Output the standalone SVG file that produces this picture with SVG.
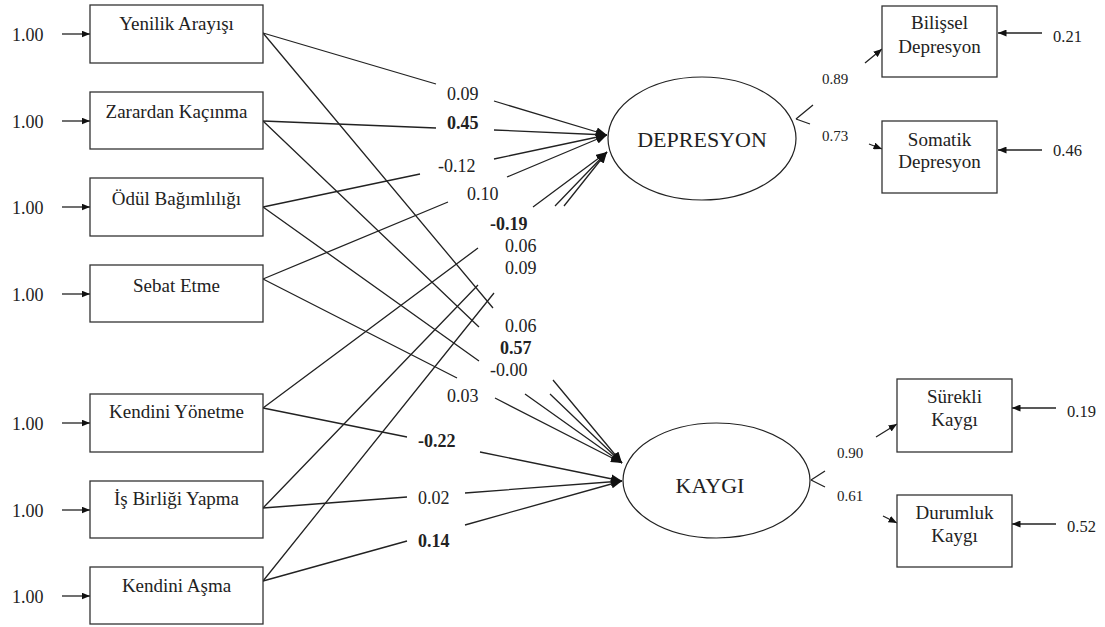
<svg xmlns="http://www.w3.org/2000/svg" width="1105" height="627" viewBox="0 0 1105 627">
<style>
text{font-family:"Liberation Serif","Times New Roman",serif;fill:#222}
.box{fill:#fff;stroke:#333;stroke-width:1.3}
.ell{fill:#fff;stroke:#222;stroke-width:1.2}
.lbl{font-size:19px;text-anchor:middle}
.lat{font-size:22px;text-anchor:middle}
.one{font-size:18px}
.coef{font-size:18px}
.b{font-weight:bold}
.ld{font-size:15px}
.res{font-size:16.5px}
.c{fill:none;stroke:#222;stroke-width:1.3}
.cb{fill:none;stroke:#222;stroke-width:1.3;marker-end:url(#ah)}
.cs{fill:none;stroke:#222;stroke-width:1.3;marker-end:url(#as)}
</style>
<defs>
<marker id="ah" markerUnits="userSpaceOnUse" markerWidth="12" markerHeight="9" refX="11" refY="4.5" orient="auto">
<path d="M0,0 L11,4.5 L0,9 z" fill="#111"/>
</marker>
<marker id="as" markerUnits="userSpaceOnUse" markerWidth="9" markerHeight="7" refX="8.5" refY="3.5" orient="auto">
<path d="M0,0 L8.5,3.5 L0,7 z" fill="#111"/>
</marker>
</defs>
<rect width="1105" height="627" fill="#fff"/>
<g id="connectors">
<path class="cs" d="M62,34 L90,34"/>
<path class="cs" d="M62,121 L90,121"/>
<path class="cs" d="M62,207 L90,207"/>
<path class="cs" d="M62,294 L90,294"/>
<path class="cs" d="M62,423 L90,423"/>
<path class="cs" d="M62,510 L90,510"/>
<path class="cs" d="M62,596 L90,596"/>
<path class="cb" d="M263,33 L436,84 M494,101 L607,135"/>
<path class="cb" d="M263,121 L436,128 M494,130 L607,135"/>
<path class="cb" d="M263,207 L420,174 M494,159 L607,135"/>
<path class="cb" d="M263,279 L448,202 M507,177 L607,135"/>
<path class="cb" d="M263,408 L478,248 M533,207 L607,152"/>
<path class="cb" d="M263,508 L478,285 M555,206 L607,152"/>
<path class="cb" d="M263,581 L494,293 M564,206 L607,152"/>
<path class="cb" d="M263,33 L493,308 M553,380 L622,463"/>
<path class="cb" d="M263,121 L479,327 M550,394 L622,463"/>
<path class="cb" d="M263,207 L479,361 M525,394 L622,463"/>
<path class="cb" d="M263,279 L457,378 M495,398 L622,463"/>
<path class="cb" d="M263,408 L407,437 M480,452 L622,481"/>
<path class="cb" d="M263,508 L407,497 M465,493 L622,481"/>
<path class="cb" d="M263,581 L407,541 M465,525 L622,481"/>
<path class="cs" d="M796,119 L813,105 M865,63 L882,49"/>
<path class="cs" d="M796,119 L810,124 M869,144 L882,149"/>
<path class="cs" d="M811,480 L825,471 M876,437 L897,424"/>
<path class="cs" d="M811,480 L825,487 M883,516 L897,523"/>
<path class="cs" d="M1042,33 L998,33"/>
<path class="cs" d="M1042,150 L998,150"/>
<path class="cs" d="M1056,408 L1012,408"/>
<path class="cs" d="M1056,524 L1012,524"/>
</g>
<g id="coefs">
<text class="coef" x="447" y="100">0.09</text>
<text class="coef b" x="447" y="129">0.45</text>
<text class="coef" x="438" y="172">-0.12</text>
<text class="coef" x="467" y="200">0.10</text>
<text class="coef b" x="490" y="230">-0.19</text>
<text class="coef" x="505" y="252">0.06</text>
<text class="coef" x="505" y="274">0.09</text>
<text class="coef" x="505" y="332">0.06</text>
<text class="coef b" x="500" y="354">0.57</text>
<text class="coef" x="490" y="376">-0.00</text>
<text class="coef" x="447" y="402">0.03</text>
<text class="coef b" x="418" y="447">-0.22</text>
<text class="coef" x="418" y="504">0.02</text>
<text class="coef b" x="418" y="547">0.14</text>
<text class="ld" x="822" y="84">0.89</text>
<text class="ld" x="822" y="141">0.73</text>
<text class="ld" x="837" y="458">0.90</text>
<text class="ld" x="837" y="501">0.61</text>
</g>
<g id="errors">
<text class="one" x="12" y="41">1.00</text>
<text class="one" x="12" y="128">1.00</text>
<text class="one" x="12" y="214">1.00</text>
<text class="one" x="12" y="301">1.00</text>
<text class="one" x="12" y="430">1.00</text>
<text class="one" x="12" y="517">1.00</text>
<text class="one" x="12" y="603">1.00</text>
<text class="res" x="1053" y="42">0.21</text>
<text class="res" x="1053" y="156">0.46</text>
<text class="res" x="1067" y="417">0.19</text>
<text class="res" x="1067" y="532">0.52</text>
</g>
<g id="yenilik"><rect class="box" x="90" y="5" width="173" height="58"/><text class="lbl" x="176.5" y="30">Yenilik Arayışı</text></g>
<g id="zarardan"><rect class="box" x="90" y="92" width="173" height="57"/><text class="lbl" x="176.5" y="118">Zarardan Kaçınma</text></g>
<g id="odul"><rect class="box" x="90" y="178" width="173" height="58"/><text class="lbl" x="176.5" y="205">Ödül Bağımlılığı</text></g>
<g id="sebat"><rect class="box" x="90" y="265" width="173" height="57"/><text class="lbl" x="176.5" y="292">Sebat Etme</text></g>
<g id="yonetme"><rect class="box" x="90" y="394" width="173" height="58"/><text class="lbl" x="176.5" y="418">Kendini Yönetme</text></g>
<g id="isbirligi"><rect class="box" x="90" y="481" width="173" height="57"/><text class="lbl" x="176.5" y="505">İş Birliği Yapma</text></g>
<g id="asma"><rect class="box" x="90" y="567" width="173" height="57"/><text class="lbl" x="176.5" y="592">Kendini Aşma</text></g>
<g id="depresyon"><ellipse class="ell" cx="702" cy="138.5" rx="94" ry="61.5"/><text class="lat" x="702" y="147">DEPRESYON</text></g>
<g id="kaygi"><ellipse class="ell" cx="716.5" cy="480.5" rx="93.5" ry="57.5"/><text class="lat" x="710" y="493">KAYGI</text></g>
<g id="bilissel"><rect class="box" x="882" y="6" width="115" height="71"/><text class="lbl" x="939.5" y="29">Bilişsel</text><text class="lbl" x="939.5" y="53">Depresyon</text></g>
<g id="somatik"><rect class="box" x="882" y="121" width="115" height="72"/><text class="lbl" x="939.5" y="146">Somatik</text><text class="lbl" x="939.5" y="168">Depresyon</text></g>
<g id="surekli"><rect class="box" x="897" y="379" width="115" height="73"/><text class="lbl" x="954.5" y="403">Sürekli</text><text class="lbl" x="954.5" y="426">Kaygı</text></g>
<g id="durumluk"><rect class="box" x="897" y="495" width="115" height="72"/><text class="lbl" x="954.5" y="519">Durumluk</text><text class="lbl" x="954.5" y="542">Kaygı</text></g>
</svg>
